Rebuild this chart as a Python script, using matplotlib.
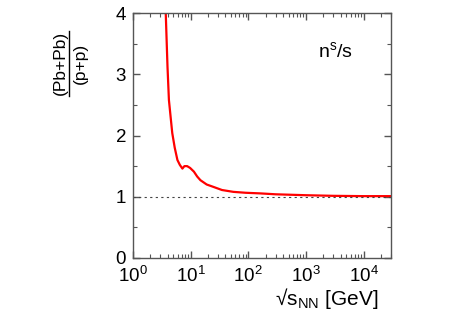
import matplotlib
matplotlib.use("Agg")
import matplotlib.pyplot as plt
from matplotlib.lines import Line2D
from matplotlib.ticker import LogLocator, NullFormatter

plt.rcParams['font.family'] = ['Liberation Sans', 'DejaVu Sans']
plt.rcParams['mathtext.fontset'] = 'custom'
plt.rcParams['mathtext.rm'] = 'Liberation Sans'
plt.rcParams['mathtext.it'] = 'Liberation Sans'
plt.rcParams['mathtext.bf'] = 'Liberation Sans'

# sqrt(s_NN) [GeV] and ratio (Pb+Pb)/(p+p) of n^s/s
sqrt_s = [3.7, 3.85, 3.97, 4.2, 4.5, 4.8, 5.3, 5.9, 6.5, 7.2, 7.8, 8.7, 9.8, 11.4, 13.0, 14.8, 19, 25, 35, 55, 90, 160, 300, 1000, 3000, 10000, 30000]
ratio  = [4.0, 3.5, 3.12, 2.58, 2.3, 2.04, 1.8, 1.6, 1.52, 1.46, 1.50, 1.50, 1.47, 1.41, 1.33, 1.27, 1.20, 1.16, 1.11, 1.08, 1.065, 1.055, 1.04, 1.025, 1.015, 1.01, 1.01]
x_ticks = [1, 10, 100, 1000, 10000]
x_ticklabels = ['$10^{0}$', '$10^{1}$', '$10^{2}$', '$10^{3}$', '$10^{4}$']
y_ticks = [0, 1, 2, 3, 4]

W, H = 454, 320
fig = plt.figure(figsize=(W/100, H/100), dpi=100)
ax = fig.add_axes([133/W, 1-258/H, (391-133)/W, (258-13)/H])

ax.plot(sqrt_s, ratio, color='red', lw=1.6)
ax.axhline(1.0, color='#444444', lw=0.8, ls=(0, (2, 3)))

ax.set_xscale('log')
ax.set_xlim(1, 3e4)
ax.set_ylim(0, 4)
ax.set_xticks(x_ticks)
ax.set_xticklabels(x_ticklabels)
ax.xaxis.set_minor_locator(LogLocator(base=10, subs=range(2, 10), numticks=20))
ax.xaxis.set_minor_formatter(NullFormatter())
ax.set_yticks(y_ticks)
ax.set_yticks([0.5, 1.5, 2.5, 3.5], minor=True)
ax.tick_params(which='both', direction='in', top=True, right=True, labelsize=13.5, colors='black')
ax.tick_params(axis='x', which='major', pad=6)
ax.tick_params(axis='y', which='major', pad=5)
ax.tick_params(which='major', length=5, width=1, color='#555555')
ax.tick_params(which='minor', length=3, width=0.8, color='#555555')
for s in ax.spines.values():
    s.set_color('#555555')
    s.set_linewidth(1.0)

# x label
fig.text(327/W, 1-305/H, '√s$_{\\mathrm{NN}}$ [GeV]', fontsize=15, ha='center', va='baseline')

# y label as a fraction, rotated
fig.text(60/W, 1-63/H, '(Pb+Pb)', rotation=90, fontsize=12.5, ha='center', va='center')
fig.text(80/W, 1-63/H, '(p+p)', rotation=90, fontsize=12.5, ha='center', va='center')
fig.add_artist(Line2D([69/W, 69/W], [1-96/H, 1-31/H], transform=fig.transFigure, color='black', lw=1.0))

ax.text(1600, 3.38, r'n$^{\mathrm{s}}$/s', fontsize=14, ha='left', va='center')

fig.savefig('out.png', dpi=100)
